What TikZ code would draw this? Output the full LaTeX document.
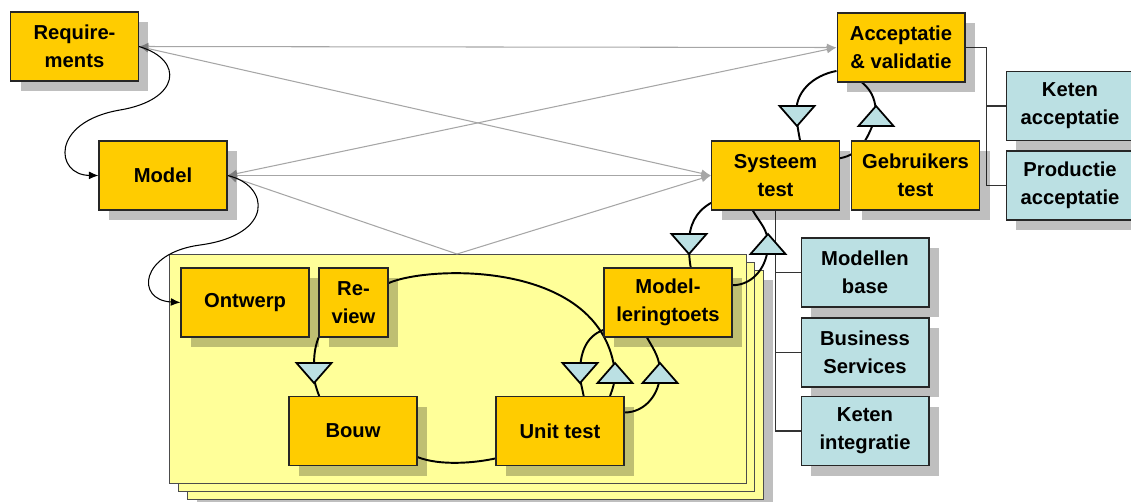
\documentclass[tikz,border=0pt]{standalone}
\usepackage{fontspec}
\setmainfont{Liberation Sans}
\usetikzlibrary{shadows,arrows.meta}

\definecolor{fasegeel}{HTML}{FFCC00}
\definecolor{omgblauw}{HTML}{BBE0E3}
\definecolor{bladgeel}{HTML}{FFFF99}
\definecolor{spoorgrijs}{HTML}{A6A6A6}

\pgfdeclarelayer{bg}
\pgfdeclarelayer{lijnen}
\pgfsetlayers{bg,lijnen,main}

\tikzset{
  fase/.style={draw=black!85, fill=fasegeel, line width=.6pt,
    minimum width=2.56cm, minimum height=1.38cm, inner sep=0pt,
    align=center, font=\fontsize{11.5}{16}\selectfont\bfseries,
    drop shadow={shadow xshift=.2cm, shadow yshift=-.2cm, fill=black, opacity=.25}},
  omg/.style={fase, fill=omgblauw},
  blad/.style={draw=black!70, fill=bladgeel, line width=.5pt},
  spoor/.style={draw=spoorgrijs, line width=.6pt},
  flow/.style={line width=1.1pt},
  tak/.style={draw=black!80, line width=.6pt},
  tri/.style={draw=black, fill=omgblauw, line width=1pt, line join=miter}
}

\begin{document}
\begin{tikzpicture}[x=.02cm, y=-.02cm, >={Latex[length=5.5pt,width=4.5pt]}]
\useasboundingbox (0,0) rectangle (1131,501);

% stapel bladen
\begin{pgfonlayer}{bg}
\fill[black, opacity=.25] (197,280) rectangle (773,510);
\draw[blad] (187,270) rectangle (763,499);
\draw[blad] (178,262) rectangle (754,491);
\draw[blad] (169,254) rectangle (746,483);
\end{pgfonlayer}
\coordinate (stk) at (457,254);

% fasen
\node[fase] (req) at (74.5,46.5) {Require-\\ments};
\node[fase] (mod) at (163,175.5) {Model};
\node[fase] (acc) at (901,47.5) {Acceptatie\\\& validatie};
\node[fase] (sys) at (775.5,175.5) {Systeem\\test};
\node[fase] (geb) at (915.5,175.5) {Gebruikers\\test};
\node[fase] (ont) at (245,302.5) {Ontwerp};
\node[fase, minimum width=1.38cm] (rev) at (353.5,302.5) {Re-\\view};
\node[fase] (bou) at (353,431) {Bouw};
\node[fase] (uni) at (560,431) {Unit test};
\node[fase] (mlt) at (668,302.5) {Model-\\leringtoets};

% omgevingen
\node[omg] (ket) at (1070,106) {Keten\\acceptatie};
\node[omg] (pro) at (1070,185.5) {Productie\\acceptatie};
\node[omg] (mdb) at (865,272.5) {Modellen\\base};
\node[omg] (bus) at (865,352.5) {Business\\Services};
\node[omg] (kin) at (865,431) {Keten\\integratie};

% driehoeken
\coordinate (t1) at (797,116);
\coordinate (t2) at (876,116);
\coordinate (t3) at (689,244);
\coordinate (t4) at (768,244);
\coordinate (t5) at (314,373);
\coordinate (t6) at (580,373);
\coordinate (t7) at (615,373);
\coordinate (t8) at (660,373);

\begin{pgfonlayer}{lijnen}
\draw[spoor, <->] (req.east) -- (acc.west);
\draw[spoor, <->] (req.east) -- (sys.west);
\draw[spoor, <->] (mod.east) -- (acc.west);
\draw[spoor, <->] (mod.east) -- (sys.west);
\draw[spoor, <-] (mod.east) -- (stk);
\draw[spoor, ->] (stk) -- (sys.west);

\draw[line width=.6pt, ->] (req.east) .. controls (185,60) and (180,100) .. (120,110)
  .. controls (50,122) and (55,175) .. (mod.west);
\draw[line width=.6pt, ->] (mod.east) .. controls (270,185) and (275,235) .. (200,245)
  .. controls (140,253) and (135,300) .. (ont.west);

\draw[flow] (acc.-160) to[out=190,in=100] (t1) to[out=-90,in=100] (sys.55);
\draw[flow] (sys.15) to[out=10,in=-110] (t2) to[out=90,in=-40] (acc.-138);
\draw[flow] (sys.-157) to[out=210,in=90] (t3) to[out=-90,in=100] (mlt.57);
\draw[flow] (mlt.15) to[out=0,in=-90] (t4) to[out=90,in=-60] (sys.-123);
\draw[flow] (rev.south west) to[out=-110,in=90] (t5) to[out=-90,in=110] (bou.134);
\draw[flow] (mlt.203) to[out=200,in=90] (t6) to[out=-90,in=100] (uni.56);
\draw[flow] (rev.29) .. controls (430,265) and (603,260) .. (t7) .. controls (614,385) .. (uni.35);
\draw[flow] (bou.-22) .. controls (440,466) and (475,463) .. (uni.203);
\draw[flow] (uni.16) to[out=0,in=-90] (t8) to[out=90,in=-60] (mlt.-121);

\draw[tak] (acc.east) -- ++(21,0) |- (ket.west);
\draw[tak] (acc.east) -- ++(21,0) |- (pro.west);
\draw[tak] (sys.south) |- (mdb.west);
\draw[tak] (sys.south) |- (bus.west);
\draw[tak] (sys.south) |- (kin.west);
\end{pgfonlayer}

\foreach \t in {t1,t3,t5,t6}
  \draw[tri] (\t) +(-17.5,-10) -- +(17.5,-10) -- +(0,10) -- cycle;
\foreach \t in {t2,t4,t7,t8}
  \draw[tri] (\t) +(-17.5,10) -- +(17.5,10) -- +(0,-10) -- cycle;

\end{tikzpicture}
\end{document}
